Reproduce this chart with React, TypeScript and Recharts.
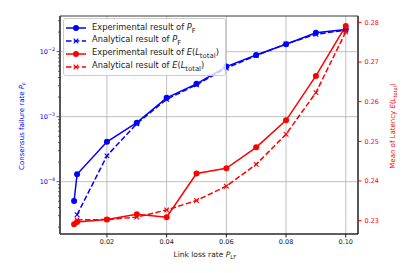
import React from "react"
import { ComposedChart, Line, XAxis, YAxis, CartesianGrid, ReferenceLine, ReferenceArea } from "recharts"

const linkLoss = [0.009, 0.01, 0.02, 0.03, 0.04, 0.05, 0.06, 0.07, 0.08, 0.09, 0.1]
const expPF = [5.05e-5, 1.3e-4, 4.1e-4, 8.1e-4, 1.95e-3, 3.2e-3, 5.9e-3, 8.9e-3, 1.3e-2, 1.95e-2, 2.2e-2]
const anaPF = [null, 3.1e-5, 2.5e-4, 7.8e-4, 1.85e-3, 3.1e-3, 5.6e-3, 8.7e-3, 1.32e-2, 1.85e-2, 2.15e-2]
const expLat = [0.2291, 0.2297, 0.2303, 0.2316, 0.2309, 0.2419, 0.2432, 0.2485, 0.2553, 0.2665, 0.2791]
const anaLat = [null, 0.2302, 0.2303, 0.2309, 0.2327, 0.2351, 0.2387, 0.2442, 0.2518, 0.2623, 0.2776]

const xTicks = [0.02, 0.04, 0.06, 0.08, 0.1]
const pfMajorTicks = [1e-4, 1e-3, 1e-2]
const latTicks = [0.23, 0.24, 0.25, 0.26, 0.27, 0.28]

const xDomain = [0.00428, 0.1041]
const pfDomain = [1.567e-5, 0.0354]
const latDomain = [0.22665, 0.2816]

const BLUE = "#0000ff"
const RED = "#ff0000"
const FONT = "DejaVu Sans"

// log minor ticks (2..9 x 10^k) inside the left domain
const pfMinorTicks: number[] = []
for (let k = -5; k <= -2; k++) {
    for (let m = 2; m <= 9; m++) {
        const v = m * Math.pow(10, k)
        if (v > pfDomain[0] && v < pfDomain[1]) pfMinorTicks.push(v)
    }
}
const pfTicks = [...pfMajorTicks, ...pfMinorTicks].sort((a, b) => a - b)

const data = linkLoss.map((x, i) => ({
    x,
    expPF: expPF[i],
    anaPF: anaPF[i],
    expLat: expLat[i],
    anaLat: anaLat[i],
}))

const PFTick = (props: any) => {
    const { x, y, payload } = props
    const v = payload.value
    const e = Math.round(Math.log10(v))
    const major = Math.abs(Math.log10(v) - e) < 1e-6
    return (
        <g>
            <line x1={x - (major ? 3.5 : 2)} x2={x} y1={y} y2={y} stroke="#222" strokeWidth={0.7} />
            {major && (
                <text x={x - 5} y={y + 2.5} textAnchor="end" fill={BLUE} fontSize={6.5} fontFamily={FONT}>
                    <tspan>10</tspan>
                    <tspan dy={-3} fontSize={4.8}>{"\u2212" + Math.abs(e)}</tspan>
                </text>
            )}
        </g>
    )
}

const crossDot = (color: string) => (props: any) => {
    const { cx, cy, index } = props
    if (cx == null || cy == null || isNaN(cy)) return <g key={index} />
    const s = 2.3
    return (
        <path
            key={index}
            d={`M${cx - s},${cy - s}L${cx + s},${cy + s}M${cx - s},${cy + s}L${cx + s},${cy - s}`}
            stroke={color}
            strokeWidth={1.1}
            fill="none"
        />
    )
}

const legendRows = [
    { color: BLUE, dashed: false, label: <>Experimental result of <i>P</i><sub>F</sub></> },
    { color: BLUE, dashed: true, label: <>Analytical result of <i>P</i><sub>F</sub></> },
    { color: RED, dashed: false, label: <>Experimental result of <i>E</i>(<i>L</i><sub>total</sub>)</> },
    { color: RED, dashed: true, label: <>Analytical result of <i>E</i>(<i>L</i><sub>total</sub>)</> },
]

function ChartLegend() {
    return (
        <div
            style={{
                position: "absolute",
                left: 63,
                top: 18,
                width: 163,
                height: 58,
                background: "rgba(255,255,255,0.8)",
                border: "1px solid #cccccc",
                borderRadius: 3,
                boxSizing: "border-box",
                fontFamily: FONT,
                fontSize: 8.3,
                color: "#222",
                paddingTop: 3,
                overflow: "hidden",
            }}
        >
            {legendRows.map((r, i) => (
                <div key={i} style={{ display: "flex", alignItems: "center", height: 12.8, lineHeight: "12px" }}>
                    <svg width={28} height={10} style={{ flex: "none" }}>
                        <line
                            x1={2}
                            x2={22}
                            y1={5}
                            y2={5}
                            stroke={r.color}
                            strokeWidth={1.5}
                            strokeDasharray={r.dashed ? "5.5 2.4" : undefined}
                        />
                        {r.dashed ? (
                            <path d="M9.7,2.7L14.3,7.3M9.7,7.3L14.3,2.7" stroke={r.color} strokeWidth={1.1} />
                        ) : (
                            <circle cx={12} cy={5} r={3} fill={r.color} />
                        )}
                    </svg>
                    <span style={{ whiteSpace: "nowrap" }}>{r.label}</span>
                </div>
            ))}
        </div>
    )
}

export default function App() {
    return (
        <div style={{ position: "absolute", left: 0, top: 0, width: 416, height: 273, background: "#fff" }}>
            <ComposedChart width={416} height={273} data={data} margin={{ top: 16, right: 0, bottom: 0, left: 0 }}>
                <CartesianGrid horizontal={false} stroke="#b0b0b0" strokeWidth={0.8} />
                {pfMajorTicks.map((t) => (
                    <ReferenceLine key={t} yAxisId="pf" y={t} stroke="#b0b0b0" strokeWidth={0.8} />
                ))}
                <XAxis
                    dataKey="x"
                    type="number"
                    domain={xDomain}
                    ticks={xTicks}
                    allowDataOverflow
                    height={39}
                    tickSize={3.5}
                    tickMargin={2}
                    stroke="#222"
                    tick={{ fill: "#222", fontSize: 6.5, fontFamily: FONT }}
                    tickFormatter={(v: number) => v.toFixed(2)}
                    label={{
                        content: () => (
                            <text x={205} y={257} textAnchor="middle" fill="#222" fontSize={7.5} fontFamily={FONT}>
                                Link loss rate <tspan fontStyle="italic">P</tspan>
                                <tspan dy={1.5} fontSize={5.5}>LF</tspan>
                            </text>
                        ),
                    }}
                />
                <YAxis
                    yAxisId="pf"
                    orientation="left"
                    scale="log"
                    domain={pfDomain}
                    allowDataOverflow
                    ticks={pfTicks}
                    interval={0}
                    width={60}
                    tickSize={0}
                    tickMargin={0}
                    tickLine={false}
                    stroke="#222"
                    tick={<PFTick />}
                    label={{
                        content: () => (
                            <text
                                transform="translate(24,126) rotate(-90)"
                                textAnchor="middle"
                                fill={BLUE}
                                fontSize={7}
                                fontFamily={FONT}
                            >
                                Consensus failure rate <tspan fontStyle="italic">P</tspan>
                                <tspan dy={1.5} fontSize={5}>F</tspan>
                            </text>
                        ),
                    }}
                />
                <YAxis
                    yAxisId="lat"
                    orientation="right"
                    domain={latDomain}
                    allowDataOverflow
                    ticks={latTicks}
                    interval={0}
                    width={58}
                    tickSize={3.5}
                    tickMargin={3}
                    axisLine={{ stroke: "#222" }}
                    tickLine={{ stroke: RED }}
                    tick={{ fill: RED, fontSize: 6.5, fontFamily: FONT }}
                    tickFormatter={(v: number) => v.toFixed(2)}
                    label={{
                        content: () => (
                            <text
                                transform="translate(395,126) rotate(-90)"
                                textAnchor="middle"
                                fill={RED}
                                fontSize={7}
                                fontFamily={FONT}
                            >
                                Mean of Latency <tspan fontStyle="italic">E</tspan>(<tspan fontStyle="italic">L</tspan>
                                <tspan dy={1.5} fontSize={5}>total</tspan>
                                <tspan dy={-1.5}>)</tspan>
                            </text>
                        ),
                    }}
                />
                <ReferenceArea
                    yAxisId="lat"
                    x1={xDomain[0]}
                    x2={xDomain[1]}
                    y1={latDomain[0]}
                    y2={latDomain[1]}
                    fill="none"
                    stroke="#222"
                    strokeWidth={0.9}
                />
                <Line
                    yAxisId="pf"
                    dataKey="expPF"
                    stroke={BLUE}
                    strokeWidth={1.5}
                    dot={{ r: 3, fill: BLUE, stroke: BLUE, strokeWidth: 0 }}
                    isAnimationActive={false}
                />
                <Line
                    yAxisId="pf"
                    dataKey="anaPF"
                    stroke={BLUE}
                    strokeWidth={1.5}
                    strokeDasharray="5.5 2.4"
                    dot={crossDot(BLUE)}
                    isAnimationActive={false}
                />
                <Line
                    yAxisId="lat"
                    dataKey="expLat"
                    stroke={RED}
                    strokeWidth={1.5}
                    dot={{ r: 3, fill: RED, stroke: RED, strokeWidth: 0 }}
                    isAnimationActive={false}
                />
                <Line
                    yAxisId="lat"
                    dataKey="anaLat"
                    stroke={RED}
                    strokeWidth={1.5}
                    strokeDasharray="5.5 2.4"
                    dot={crossDot(RED)}
                    isAnimationActive={false}
                />
            </ComposedChart>
            <ChartLegend />
        </div>
    )
}
